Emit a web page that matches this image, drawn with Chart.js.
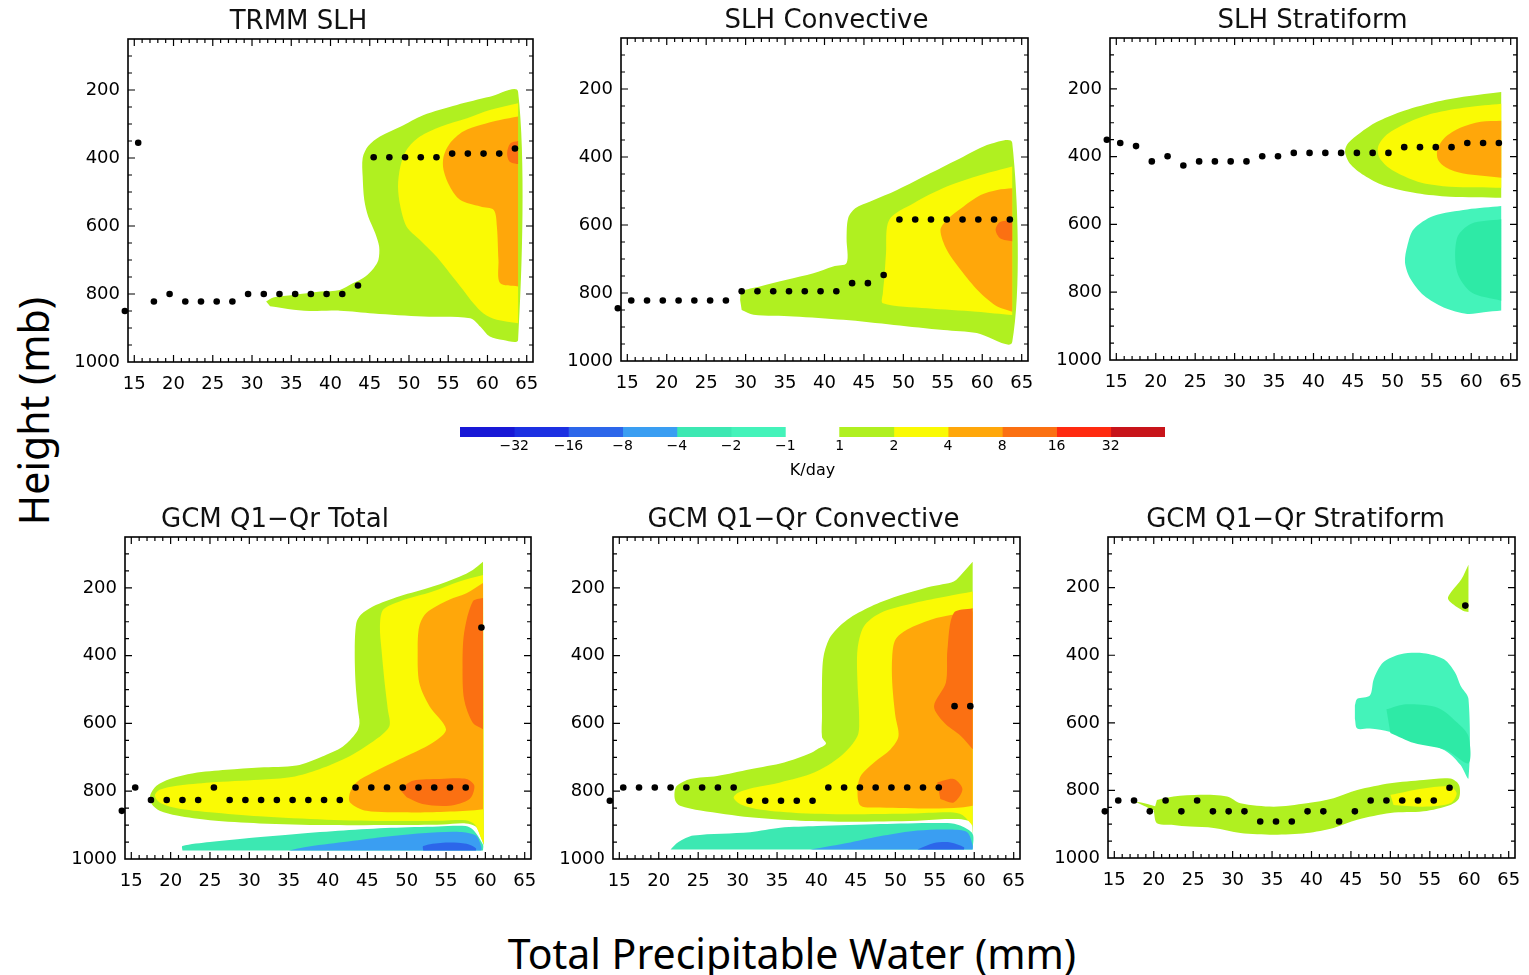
<!DOCTYPE html>
<html>
<head>
<meta charset="utf-8">
<script src="https://cdn.jsdelivr.net/npm/chart.js@4.4.1/dist/chart.umd.min.js"></script>
<style>
  html, body { margin: 0; padding: 0; background: #fff; }
  body { width: 1529px; height: 975px; position: relative; overflow: hidden; }
  canvas { position: absolute; }
  .axis-label {
    position: absolute; color: #000; white-space: nowrap;
    font-family: "Noto Sans", "Open Sans", sans-serif; font-size: 41px; line-height: 1;
  }
  #yLabel { left: 33px; top: 411px; transform: translate(-50%, -50%) rotate(-90deg); }
  #xLabel { left: 792px; top: 953px; transform: translate(-50%, -50%); }
</style>
</head>
<body>
<div id="yLabel" class="axis-label">Height (mb)</div>
<div id="xLabel" class="axis-label">Total Precipitable Water (mm)</div>

<script>
// ---- axis ticks ----
const xTickValues = [15, 20, 25, 30, 35, 40, 45, 50, 55, 60, 65];
const yTickValues = [200, 400, 600, 800, 1000];

// TPW bins (mm) where the peak-height dots sit
const tpwTop = [13.8, 15.5, 17.5, 19.5, 21.5, 23.5, 25.5, 27.5, 29.5, 31.5, 33.5, 35.5, 37.5,
  39.5, 41.5, 43.5, 45.5, 47.5, 49.5, 51.5, 53.5, 55.5, 57.5, 59.5, 61.5, 63.5];
const tpwBottom = [13.8, 15.5, 17.5, 19.5, 21.5, 23.5, 25.5, 27.5, 29.5, 31.5, 33.5, 35.5,
  37.5, 39.5, 41.5, 43.5, 45.5, 47.5, 49.5, 51.5, 53.5, 55.5, 57.5, 59.5];

// pressure (mb) of the heating peak in each bin
const trmmDotP = [850, 355, 822, 800, 822, 822, 822, 822, 800, 800, 800, 800, 800, 800, 800,
  775, 398, 398, 398, 398, 398, 387, 387, 387, 387, 372];
const convDotP = [845, 822, 822, 822, 822, 822, 822, 822, 795, 795, 795, 795, 795, 795, 795,
  771, 771, 747, 584, 584, 584, 584, 584, 584, 584, 584];
const stratDotP = [350, 360, 369, 414, 399, 426, 414, 414, 414, 414, 399, 399, 389, 389, 389,
  389, 389, 389, 389, 372, 372, 372, 372, 360, 360, 360];
const gcmTotDotP = [858, 789, 826, 826, 826, 826, 789, 826, 826, 826, 826, 826, 826, 826, 826,
  789, 789, 789, 789, 789, 789, 789, 789, 317];
const gcmConvDotP = [828, 789, 789, 789, 789, 789, 789, 789, 789, 828, 828, 828, 828, 828, 789,
  789, 789, 789, 789, 789, 789, 789, 549, 549];
const gcmStratDotP = [862, 830, 830, 862, 830, 862, 830, 862, 862, 862, 892, 892, 892, 862, 862,
  892, 862, 830, 830, 830, 830, 830, 792, 253];

// ---- contour outlines, [TPW mm, pressure mb] ----
// TRMM SLH
const trmmGe1 = [[31.8,822],[32.7,810],[35.3,803],[38.7,793],[41.2,788],[42.9,768],[44.4,749],[45.5,724],
  [46.1,700],[46.2,661],[45.7,621],[44.8,572],[44.3,523],[44.1,455],[44.1,400],[44.8,365],[46.3,337],
  [48.9,308],[51.8,274],[56.1,244],[60.3,220],[63.9,205],[63.9,935],[62.0,935],[60.3,925],[59.1,896],
  [57.8,871],[51.8,866],[45.5,857],[41.2,849],[38,850],[35.3,846],[32.3,836]];
const trmmGe2 = [[63.9,239],[60.3,259],[57.4,283],[54,308],[51.4,337],[49.7,376],[48.9,425],[48.6,484],
  [48.9,543],[49.7,602],[51.4,641],[53.5,690],[55.2,739],[56.9,788],[58.2,827],[59.5,857],[61.2,876],[63.9,886]];
const trmmGe4 = [[63.9,278],[61.6,288],[59.1,303],[56.9,322],[55.2,357],[54.4,396],[54.4,435],[55.2,484],
  [56.5,523],[59.1,543],[60.8,553],[61.2,602],[61.4,700],[61.6,768],[63.9,778]];
const trmmGe8 = [[63.9,350],[62.9,357],[62.5,385],[62.8,410],[63.9,418]];

// SLH Convective
const convGe1 = [[29.3,820],[29.5,796],[31.8,781],[35.2,761],[38.6,742],[41.1,722],[42.8,712],[42.8,640],
  [43.0,580],[43.9,551],[45.8,531],[49.2,497],[53.4,448],[57.6,399],[61,362],[63.8,358],[63.8,944],
  [59.3,918],[55.1,909],[48.8,894],[42.4,879],[36.1,869],[31,864],[29.5,850]];
const convGe2 = [[63.8,428],[59.8,453],[55.5,487],[51.3,536],[48.2,585],[47.8,683],[47.6,752],[47.4,800],
  [47.4,830],[53,845],[59.3,855],[63.8,865]];
const convGe4 = [[63.8,492],[61.9,497],[59.8,512],[57.6,546],[55.5,585],[54.7,615],[55.5,673],[57.6,742],
  [59.8,801],[61.9,840],[63.8,855]];
const convGe8 = [[63.8,585],[62.2,592],[61.7,615],[62.3,640],[63.8,648]];

// SLH Stratiform
const stratGe1 = [[63.8,209],[59.5,222],[55.2,240],[51,268],[48,298],[45.9,330],[44.4,360],[44,385],
  [44.6,420],[46.4,455],[48.9,485],[53.1,508],[57.3,518],[63.8,521]];
const stratGe2 = [[63.8,244],[59.5,254],[55.2,272],[51.9,300],[49.3,335],[48.2,370],[48.3,400],[49.5,432],
  [51.5,458],[53.8,478],[57.3,489],[63.8,492]];
const stratGe4 = [[63.8,294],[61.2,297],[58.6,315],[56.6,345],[55.7,380],[55.8,410],[56.8,432],[59,450],[63.8,462]];
const stratLe1 = [[63.8,546],[59.5,556],[55.2,575],[52.7,614],[51.9,663],[51.6,712],[52.3,761],[54,810],
  [56.5,845],[59.5,864],[61.6,859],[63.8,854]];
const stratLe1b = [[63.8,585],[60,598],[58.2,640],[58.2,740],[60,800],[63.8,825]];

// GCM Q1-Qr Total
const gTotGe1 = [[59.7,123],[58.4,147],[56.7,167],[53.3,196],[49.1,225],[45.7,255],[44.2,279],[43.6,304],
  [43.4,382],[43.5,480],[43.8,559],[44.0,600],[43.6,627],[41.9,668],[39.2,698],[36,724],[31.3,730],
  [27.1,737],[22.9,747],[19.9,764],[18.2,784],[17.4,813],[17.6,838],[18.6,858],[20.8,872],[25,886],
  [31.3,895],[39.8,900],[48.3,900],[54.6,898],[57.5,895],[58.8,905],[59.5,940],[59.8,960]];
const gTotGe2 = [[59.7,162],[56.7,181],[53.3,211],[49.1,240],[47,265],[46.6,314],[46.8,382],[47.2,480],
  [47.6,559],[47.8,608],[46.1,647],[42.8,696],[38.9,735],[35.4,758],[31.3,766],[25,774],[20.8,784],
  [18.6,796],[18,813],[18.6,833],[20.8,850],[25,862],[31.3,874],[39.8,884],[48.3,888],[54.6,887],
  [57.5,886],[58.7,900],[59.4,935],[59.8,955]];
const gTotGe4 = [[59.7,186],[57.6,216],[55.4,235],[52.5,274],[51.6,314],[51.4,382],[51.6,480],[52.9,549],
  [55,617],[53.3,657],[49.1,706],[45.7,745],[43.6,774],[42.8,804],[42.8,833],[44.9,858],[49.1,862],
  [53.3,862],[57.6,858],[59.7,853]];
const gTotGe8a = [[59.7,230],[58.4,240],[57.3,333],[57.1,431],[57.3,529],[58.4,598],[59.7,617]];
const gTotGe8b = [[49.1,794],[50.8,769],[54.2,764],[57.6,764],[58.6,784],[58,823],[55.4,843],[52,838],[50,818]];
const gTotLe1 = [[21.5,975],[21.5,962],[25,950],[30,938],[36,926],[42,916],[48,908],[54,904],[57.5,903],
  [58.5,915],[59.7,958],[59.7,975]];
const gTotLe4 = [[35,975],[37,965],[42,950],[47,935],[52,924],[56.7,920],[58.8,931],[59.5,965],[59.5,975]];
const gTotLe8 = [[52.1,975],[52.1,962],[54.6,952],[57.6,955],[58.8,968],[58.8,975]];

// GCM Q1-Qr Convective
const gConvGe1 = [[59.8,123],[58.5,157],[57.4,181],[54.5,196],[50.2,225],[46.9,255],[43.9,294],[41.8,343],
  [40.9,402],[40.7,480],[40.7,578],[40.7,640],[41.2,660],[40.1,676],[39.2,688],[35.9,715],[31.6,735],
  [27.4,755],[24,764],[22.3,784],[22,804],[22.1,828],[22.7,843],[25.3,857],[31.6,877],[37.9,887],
  [44.3,890],[52.8,887],[57,882],[59.5,890],[59.8,926]];
const gConvGe2 = [[59.8,211],[56.6,225],[52.4,245],[48.1,274],[46,314],[45.2,382],[45.2,480],[45.4,578],
  [45.2,637],[43.1,696],[39.7,745],[35.4,774],[32,790],[30,805],[29.5,820],[30.5,840],[33,855],[38,865],
  [45,868],[52,866],[57,862],[58.5,870],[59.8,902]];
const gConvGe4 = [[59.8,270],[57.4,279],[54.5,294],[51.5,323],[50,353],[49.6,402],[49.6,480],[50,578],
  [50.4,637],[49.4,676],[47.3,715],[45.6,755],[45.2,800],[45.6,843],[48.1,848],[54.5,851],[58.3,848],[59.8,843]];
const gConvGe8a = [[59.8,260],[57.4,274],[56.6,382],[56.4,480],[54.9,549],[56.2,598],[58.3,637],[59.8,676]];
const gConvGe8b = [[55.3,774],[57.4,764],[58.5,794],[57.4,833],[55.7,823]];
const gConvLe1 = [[21.5,972],[22.5,950],[24.4,931],[31.6,921],[35.4,908],[40.1,903],[48.1,897],[56.6,894],
  [58.3,902],[59.8,926],[59.8,972]];
const gConvLe4 = [[39.2,972],[44.3,951],[48.5,931],[52.8,916],[57,913],[59.1,921],[59.8,960],[59.8,972]];
const gConvLe8 = [[52.8,972],[54.9,953],[57,951],[58.7,965],[58.7,972]];

// GCM Q1-Qr Stratiform
const gStratGe1 = [[20.4,828],[22.5,818],[25.9,813],[29.3,818],[31,838],[35.2,848],[39.4,838],[42.8,823],
  [45.8,799],[50,779],[54.2,769],[57.6,765],[58.7,784],[58.7,823],[57.6,843],[54.2,862],[50,867],
  [45.8,887],[42.8,911],[39.4,926],[35.2,931],[31,926],[27.6,911],[24.6,907],[22.5,902],[20.4,897],[20,862]];
const gStratTail = [[17.6,833],[19.2,840],[20.4,850],[20.2,860],[18.8,846]];
const gStratTop = [[59.9,132],[59.0,175],[57.8,210],[57.3,232],[58,250],[59.2,268],[59.9,272]];
const gStratGe2 = [[50,813],[54.2,794],[57.6,789],[58.4,809],[57.6,838],[54.2,848],[50.4,843]];
const gStratLe1 = [[45.5,549],[45.8,529],[47.4,519],[47.9,470],[49.1,421],[51.3,397],[54.2,394],[56.8,412],
  [58.2,451],[58.9,490],[59.9,529],[59.9,764],[58.9,725],[57.2,686],[54.2,657],[50,627],[47.4,617],
  [45.8,617],[45.5,588]];
const gStratLe1b = [[49.5,560],[52,545],[56,555],[58.5,600],[59.9,640],[59.9,720],[57,680],[53,660],[50,630]];

// ---- colour bar ----
const cbTickPos = [1, 2, 3, 4, 5, 6, 7, 8, 9, 10, 11, 12];
const cbTickLabels = ['\u221232', '\u221216', '\u22128', '\u22124', '\u22122', '\u22121', '1', '2', '4', '8', '16', '32'];

// level colours (K/day)
const C = {
  n32: '#1818d6', n16: '#1c30e2', n8: '#2c66ea', n4: '#3a9ef2', n2: '#3ce8b2', n1: '#44f3ba',
  gap: 'rgba(255,255,255,0)',
  p1: '#b0f020', p2: '#fafa04', p4: '#ffa70a', p8: '#fb7012', p16: '#ff2a10', p32: '#c8141a',
  aquaDeep: '#2eeaa6'
};
const cbColors = [C.n32, C.n16, C.n8, C.n4, C.n2, C.n1, C.gap, C.p1, C.p2, C.p4, C.p8, C.p16, C.p32];

const TICK_FONT = { family: '"DejaVu Sans", sans-serif', size: 18 };

// panel layout: plot box [left, top, right, bottom] in page pixels
const panels = [
  { box: [128, 39, 533, 362], title: 'TRMM SLH', dx: -32, tpw: tpwTop, dots: trmmDotP,
    regions: [[trmmGe1, C.p1], [trmmGe2, C.p2], [trmmGe4, C.p4], [trmmGe8, C.p8]] },
  { box: [621, 38, 1028, 361], title: 'SLH Convective', dx: 2, tpw: tpwTop, dots: convDotP,
    regions: [[convGe1, C.p1], [convGe2, C.p2], [convGe4, C.p4], [convGe8, C.p8]] },
  { box: [1110, 38, 1517, 360], title: 'SLH Stratiform', dx: -1, tpw: tpwTop, dots: stratDotP,
    regions: [[stratGe1, C.p1], [stratGe2, C.p2], [stratGe4, C.p4], [stratLe1, C.n1], [stratLe1b, C.aquaDeep]] },
  { box: [125, 537, 531, 859], title: 'GCM Q1\u2212Qr Total', dx: -53, tpw: tpwBottom, dots: gcmTotDotP,
    regions: [[gTotGe1, C.p1], [gTotGe2, C.p2], [gTotGe4, C.p4], [gTotGe8a, C.p8], [gTotGe8b, C.p8],
      [gTotLe1, C.n2], [gTotLe4, C.n4], [gTotLe8, C.n8]] },
  { box: [613, 537, 1020, 859], title: 'GCM Q1\u2212Qr Convective', dx: -13, tpw: tpwBottom, dots: gcmConvDotP,
    regions: [[gConvGe1, C.p1], [gConvGe2, C.p2], [gConvGe4, C.p4], [gConvGe8a, C.p8], [gConvGe8b, C.p8],
      [gConvLe1, C.n2], [gConvLe4, C.n4], [gConvLe8, C.n8]] },
  { box: [1108, 537, 1515, 858], title: 'GCM Q1\u2212Qr Stratiform', dx: -16, tpw: tpwBottom, dots: gcmStratDotP,
    regions: [[gStratGe1, C.p1], [gStratTail, C.p1], [gStratTop, C.p1], [gStratGe2, C.p2],
      [gStratLe1, C.n1], [gStratLe1b, C.aquaDeep]] }
];

const Y_AXIS_W = 56, X_AXIS_H = 36, TOP_PAD = 36, RIGHT_PAD = 4;

// IDL-style frame: box with inward ticks on all four sides
function framePlugin() {
  return {
    id: 'idlFrame',
    afterDatasetsDraw(chart) {
      const { ctx, chartArea: a, scales: { x, y } } = chart;
      ctx.save();
      ctx.strokeStyle = '#000';
      ctx.lineWidth = 1.6;
      ctx.strokeRect(a.left, a.top, a.right - a.left, a.bottom - a.top);
      ctx.lineWidth = 1.2;
      ctx.beginPath();
      for (let v = Math.ceil(x.min); v <= x.max; v++) {
        const px = x.getPixelForValue(v);
        const len = v % 5 === 0 ? 7 : 4;
        ctx.moveTo(px, a.bottom); ctx.lineTo(px, a.bottom - len);
        ctx.moveTo(px, a.top); ctx.lineTo(px, a.top + len);
      }
      for (let v = 100; v < 1000; v += 50) {
        const py = y.getPixelForValue(v);
        const len = v % 200 === 0 ? 7 : 4;
        ctx.moveTo(a.left, py); ctx.lineTo(a.left + len, py);
        ctx.moveTo(a.right, py); ctx.lineTo(a.right - len, py);
      }
      ctx.stroke();
      ctx.restore();
    }
  };
}

function titlePlugin(text, dx) {
  return {
    id: 'panelTitle',
    afterDraw(chart) {
      const { ctx, chartArea: a } = chart;
      ctx.save();
      ctx.font = '26px "DejaVu Sans", sans-serif';
      ctx.fillStyle = '#111';
      ctx.textAlign = 'center';
      ctx.textBaseline = 'middle';
      ctx.fillText(text, (a.left + a.right) / 2 + dx, a.top - 17);
      ctx.restore();
    }
  };
}

function makeCanvas(left, top, width, height) {
  const cv = document.createElement('canvas');
  cv.width = width; cv.height = height;
  cv.style.left = left + 'px'; cv.style.top = top + 'px';
  cv.style.width = width + 'px'; cv.style.height = height + 'px';
  document.body.appendChild(cv);
  return cv;
}

// keep the plot box exactly where the layout says: no label overhang padding
function noOverhang(s) {
  s.paddingLeft = 0; s.paddingRight = 0; s.paddingTop = 0; s.paddingBottom = 0;
}

function drawPanel(p) {
  const [L, T, R, B] = p.box;
  const cv = makeCanvas(L - Y_AXIS_W, T - TOP_PAD, Y_AXIS_W + (R - L) + RIGHT_PAD, TOP_PAD + (B - T) + X_AXIS_H);

  const dotSet = {
    data: p.tpw.map((x, i) => ({ x, y: p.dots[i] })),
    showLine: false,
    pointRadius: 3.3,
    pointBackgroundColor: '#000',
    pointBorderWidth: 0,
    clip: false
  };
  // outermost level last so the filler paints it first
  const fills = p.regions.slice().reverse().map(([pts, color]) => ({
    data: pts.map(([x, y]) => ({ x, y })),
    showLine: true,
    fill: 'shape',
    backgroundColor: color,
    borderWidth: 0,
    pointRadius: 0,
    tension: 0.3
  }));

  new Chart(cv, {
    type: 'scatter',
    data: { datasets: [dotSet, ...fills] },
    options: {
      responsive: false,
      animation: false,
      layout: { padding: { left: 0, right: RIGHT_PAD, top: TOP_PAD, bottom: 0 } },
      plugins: { legend: { display: false }, tooltip: { enabled: false } },
      scales: {
        x: {
          type: 'linear', min: 14.2, max: 65.8,
          afterBuildTicks: s => { s.ticks = xTickValues.map(v => ({ value: v })); },
          afterFit: s => { s.height = X_AXIS_H; noOverhang(s); },
          grid: { display: false, drawTicks: false },
          border: { display: false },
          ticks: { font: TICK_FONT, color: '#000', padding: 12, maxRotation: 0, autoSkip: false,
            callback: v => String(v) }
        },
        y: {
          type: 'linear', min: 50, max: 1000, reverse: true,
          afterBuildTicks: s => { s.ticks = yTickValues.map(v => ({ value: v })); },
          afterFit: s => { s.width = Y_AXIS_W; noOverhang(s); },
          grid: { display: false, drawTicks: false },
          border: { display: false },
          ticks: { font: TICK_FONT, color: '#000', padding: 8, autoSkip: false,
            callback: v => String(v) }
        }
      }
    },
    plugins: [framePlugin(), titlePlugin(p.title, p.dx)]
  });
}

panels.forEach(drawPanel);

// colour bar as a one-row stacked bar
(function drawColorBar() {
  const cv = makeCanvas(460, 427, 705, 58);
  new Chart(cv, {
    type: 'bar',
    data: {
      labels: [''],
      datasets: cbColors.map(c => ({
        data: [1], backgroundColor: c, borderWidth: 0, barPercentage: 1, categoryPercentage: 1
      }))
    },
    options: {
      indexAxis: 'y',
      responsive: false,
      animation: false,
      layout: { padding: 0 },
      plugins: { legend: { display: false }, tooltip: { enabled: false } },
      scales: {
        x: {
          stacked: true, min: 0, max: 13,
          afterBuildTicks: s => { s.ticks = cbTickPos.map(v => ({ value: v })); },
          afterFit: s => { s.height = 48; noOverhang(s); },
          grid: { display: false, drawTicks: false },
          border: { display: false },
          ticks: {
            callback: (v, i) => cbTickLabels[i],
            font: { family: '"DejaVu Sans", sans-serif', size: 14 },
            color: '#000', padding: 1, maxRotation: 0, autoSkip: false
          },
          title: {
            display: true, text: 'K/day', color: '#000',
            font: { family: '"DejaVu Sans", sans-serif', size: 16 },
            padding: { top: 3, bottom: 5 }
          }
        },
        y: { stacked: true, display: false }
      }
    }
  });
})();
</script>
</body>
</html>
